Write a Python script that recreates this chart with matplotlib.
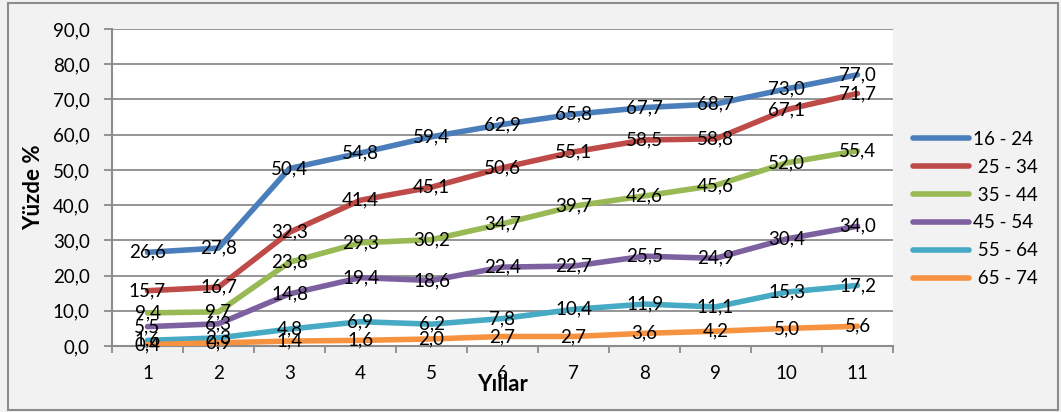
import matplotlib
matplotlib.use("Agg")
import matplotlib.pyplot as plt
from matplotlib.patches import Rectangle
import numpy as np

plt.rcParams['font.family'] = ['Lato', 'DejaVu Sans']

years = [1, 2, 3, 4, 5, 6, 7, 8, 9, 10, 11]
series_names = ["16 - 24", " 25 - 34", " 35 - 44", "45 - 54", " 55 - 64", " 65 - 74"]
age_16_24 = [26.6, 27.8, 50.4, 54.8, 59.4, 62.9, 65.8, 67.7, 68.7, 73.0, 77.0]
age_25_34 = [15.7, 16.7, 32.3, 41.4, 45.1, 50.6, 55.1, 58.5, 58.8, 67.1, 71.7]
age_35_44 = [9.4, 9.7, 23.8, 29.3, 30.2, 34.7, 39.7, 42.6, 45.6, 52.0, 55.4]
age_45_54 = [5.5, 6.3, 14.8, 19.4, 18.6, 22.4, 22.7, 25.5, 24.9, 30.4, 34.0]
age_55_64 = [1.6, 2.3, 4.8, 6.9, 6.2, 7.8, 10.4, 11.9, 11.1, 15.3, 17.2]
age_65_74 = [0.4, 0.9, 1.4, 1.6, 2.0, 2.7, 2.7, 3.6, 4.2, 5.0, 5.6]
series_values = [age_16_24, age_25_34, age_35_44, age_45_54, age_55_64, age_65_74]
colors = ["#4A7EBB", "#BE4B48", "#98B954", "#7D60A0", "#46AAC5", "#F69240"]
y_ticks = [0, 10, 20, 30, 40, 50, 60, 70, 80, 90]

W, H = 1061, 412
fig = plt.figure(figsize=(W / 100, H / 100), dpi=100)
fig.patch.set_facecolor("#F2F2F2")

# outer chart border
fig.patches.append(Rectangle((8 / W, 1 - 410 / H), (1058 - 8) / W, (410 - 3) / H,
                             transform=fig.transFigure, fill=False,
                             edgecolor="#8C8C8C", linewidth=1.5))

ax = fig.add_axes([112 / W, 1 - 346 / H, (893 - 112) / W, (346 - 29) / H])
ax.set_facecolor("white")

grid_c = "#8C8C8C"
for yv in y_ticks:
    ax.axhline(yv, color=grid_c, linewidth=1.3, zorder=1)

for name, vals, c in zip(series_names, series_values, colors):
    ax.plot(years, vals, color=c, linewidth=4.0, solid_capstyle="round",
            solid_joinstyle="round", label=name, zorder=3)
    for xv, yv in zip(years, vals):
        ax.text(xv, yv, f"{yv:.1f}".replace(".", ","), ha="center", va="center",
                fontsize=13.5, color="black", zorder=4)

ax.set_xlim(0.5, 11.5)
ax.set_ylim(0, 90)
ax.set_yticks(y_ticks)
ax.set_yticklabels([f"{v:.1f}".replace(".", ",") for v in y_ticks], fontsize=13.5)
ax.set_xticks(years)
ax.set_xticklabels([str(v) for v in years], fontsize=13.5)
ax.set_xticks(np.arange(0.5, 12, 1.0), minor=True)
ax.tick_params(axis="x", which="major", length=0, pad=14)
ax.tick_params(axis="x", which="minor", length=5, width=1.3, color=grid_c, direction="out")
ax.tick_params(axis="y", length=6, width=1.3, color=grid_c, direction="out", pad=10)

for s in ["top", "right"]:
    ax.spines[s].set_visible(False)
for s in ["left", "bottom"]:
    ax.spines[s].set_color(grid_c)
    ax.spines[s].set_linewidth(1.5)

ax.set_xlabel("Yıllar", fontsize=16, fontweight="bold", labelpad=-6)
ax.set_ylabel("Yüzde %", fontsize=16, fontweight="bold", labelpad=6)

fig.legend(loc="upper left", bbox_to_anchor=(896 / W, 1 - 114 / H),
           frameon=False, fontsize=13.5, handlelength=3.0, handletextpad=0.2,
           labelspacing=0.58)

fig.savefig("out.png", dpi=100, facecolor=fig.get_facecolor())
